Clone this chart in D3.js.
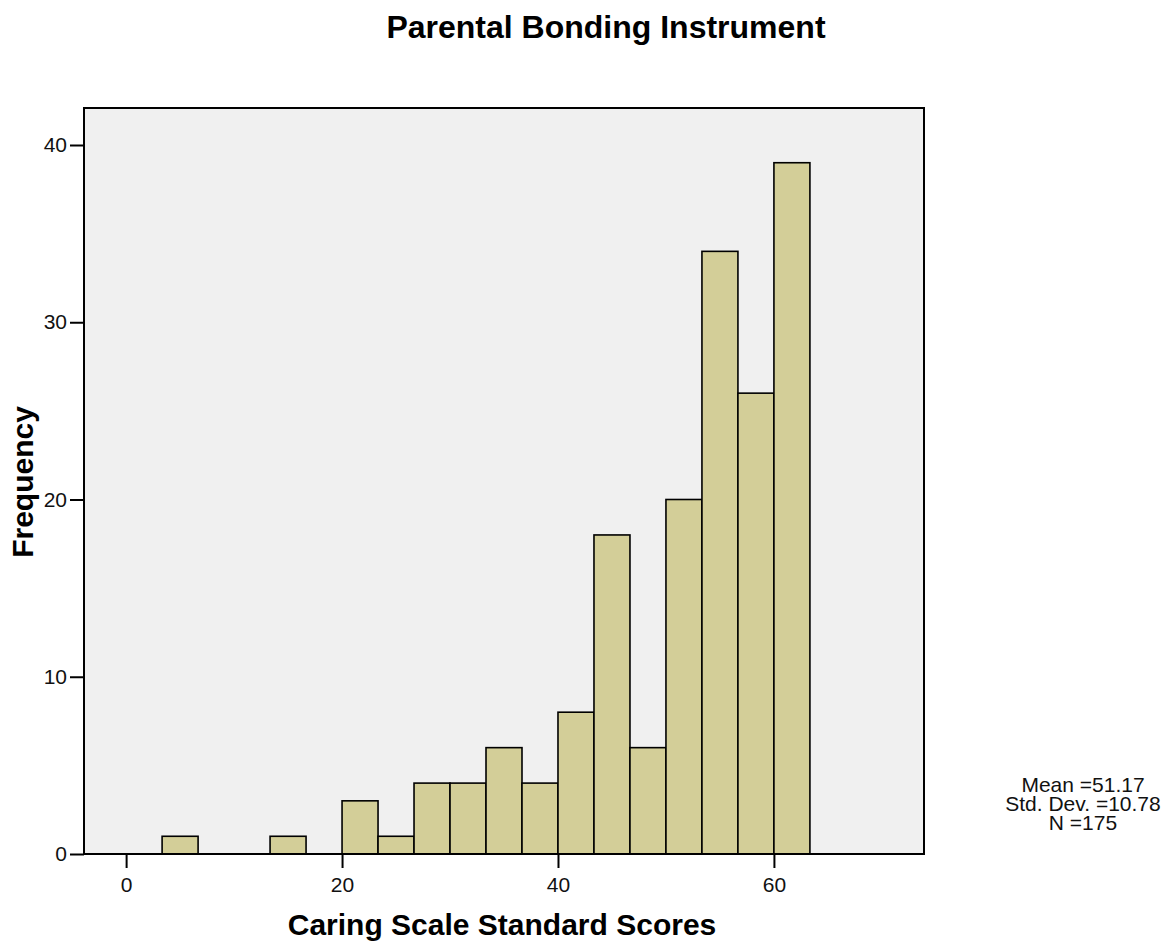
<!DOCTYPE html>
<html>
<head>
<meta charset="utf-8">
<script src="https://cdn.jsdelivr.net/npm/d3@7"></script>
<style>
  html, body { margin: 0; padding: 0; background: #fff; }
  svg { display: block; font-family: "Liberation Sans", Arial, sans-serif; }
</style>
</head>
<body>
<svg id="chart" width="1170" height="941"></svg>
<script>
// Data
const binStarts = [10/3, 20/3, 10, 40/3, 50/3, 20, 70/3, 80/3, 30, 100/3, 110/3, 40, 130/3, 140/3, 50, 160/3, 170/3, 60];
const frequencies = [1, 0, 0, 1, 0, 3, 1, 4, 4, 6, 4, 8, 18, 6, 20, 34, 26, 39];
const binWidth = 10/3;
const xTicks = [0, 20, 40, 60];
const yTicks = [0, 10, 20, 30, 40];
const statsLines = ["Mean =51.17", "Std. Dev. =10.78", "N =175"];

const svg = d3.select("#chart");
const L = 84, R = 924, T = 108, B = 854;

const x = d3.scaleLinear().domain([-3.9, 73.9]).range([L, R]);
const y = d3.scaleLinear().domain([0, 40]).range([B, 145]);

// background
svg.append("rect").attr("x", L).attr("y", T).attr("width", R - L).attr("height", B - T)
  .attr("fill", "#f0f0f0");

// bars
const bins = binStarts.map((s, i) => ({ x0: s, x1: s + binWidth, v: frequencies[i] })).filter(d => d.v > 0);
svg.append("g").selectAll("rect").data(bins).join("rect")
  .attr("x", d => x(d.x0))
  .attr("width", d => x(d.x1) - x(d.x0))
  .attr("y", d => y(d.v))
  .attr("height", d => y(0) - y(d.v))
  .attr("fill", "#d3ce98")
  .attr("stroke", "#000")
  .attr("stroke-width", 1.6);

// frame
svg.append("rect").attr("x", L).attr("y", T).attr("width", R - L).attr("height", B - T)
  .attr("fill", "none").attr("stroke", "#000").attr("stroke-width", 2);

// axes
const yAxis = svg.append("g").attr("transform", `translate(${L},0)`)
  .call(d3.axisLeft(y).tickValues(yTicks).tickSize(14).tickPadding(3));
const xAxis = svg.append("g").attr("transform", `translate(0,${B})`)
  .call(d3.axisBottom(x).tickValues(xTicks).tickSize(14).tickPadding(9));
[yAxis, xAxis].forEach(a => {
  a.select(".domain").remove();
  a.selectAll(".tick line").attr("stroke", "#000").attr("stroke-width", 2);
  a.selectAll(".tick text").attr("fill", "#111").style("font-size", "21px")
    .style("font-family", "'Liberation Sans', Arial, sans-serif");
});

// titles
svg.append("text").attr("x", 606).attr("y", 38).attr("text-anchor", "middle")
  .style("font-size", "32px").style("font-weight", "bold").text("Parental Bonding Instrument");
svg.append("text").attr("x", 502).attr("y", 935).attr("text-anchor", "middle")
  .style("font-size", "30px").style("font-weight", "bold").text("Caring Scale Standard Scores");
svg.append("text").attr("transform", "translate(33,482) rotate(-90)").attr("text-anchor", "middle")
  .style("font-size", "30px").style("font-weight", "bold").text("Frequency");

// stats
svg.append("g").selectAll("text").data(statsLines).join("text")
  .attr("x", 1083).attr("y", (d, i) => 792 + i * 19).attr("text-anchor", "middle")
  .style("font-size", "21px").attr("fill", "#111").text(d => d);
</script>
</body>
</html>
